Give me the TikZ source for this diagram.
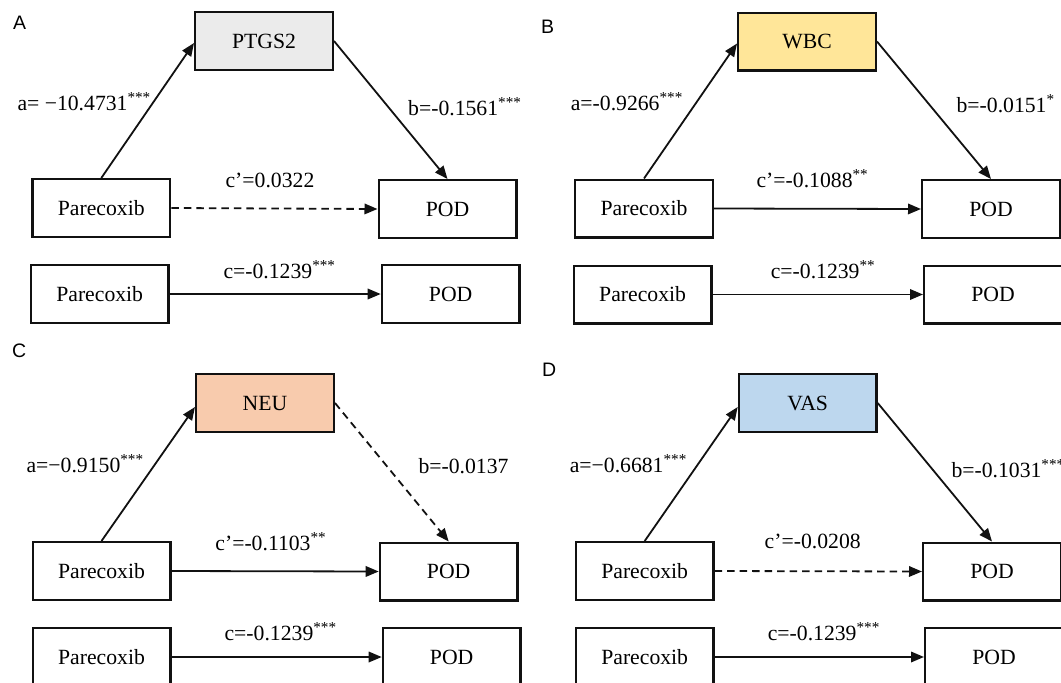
\documentclass[tikz,border=0pt]{standalone}
\usepackage{fontspec}
\setmainfont{Liberation Serif}
\newfontfamily\lettersans{Liberation Sans}
\usetikzlibrary{arrows.meta,calc}
\definecolor{grayfill}{HTML}{EBEBEB}
\definecolor{yellowfill}{HTML}{FFE699}
\definecolor{orangefill}{HTML}{F8CBAD}
\definecolor{bluefill}{HTML}{BDD7EE}
\definecolor{edge}{HTML}{111111}
\newcommand{\st}[1]{\textsuperscript{#1}}
\begin{document}
\begin{tikzpicture}[x=1pt,y=-1pt,
  box/.style={draw=edge, line width=2.4pt, minimum width=137.6pt, minimum height=57.6pt, inner sep=0pt, font=\fontsize{21.7}{25}\selectfont},
  lab/.style={anchor=base west, inner sep=0pt, font=\fontsize{21.7}{25}\selectfont},
  panel/.style={anchor=base west, inner sep=0pt, font=\lettersans\fontsize{19.5}{22}\selectfont},
  conn/.style={draw=edge, line width=1.8pt, -{Triangle[length=13pt,width=10.5pt]}},
  dconn/.style={conn, dash pattern=on 7.5pt off 5pt}]
\useasboundingbox (0,0) rectangle (1061,683);
\clip (0,0) rectangle (1061,683);

% ---------- Panel A ----------
\node[panel] (LA) at (13,29) {A};
\node[box, fill=grayfill] (PTGS2) at (264,41) {PTGS2};
\node[box] (ParA1) at (101.3,208) {Parecoxib};
\node[box] (PODA1) at (447.5,209) {POD};
\node[box] (ParA2) at (99.7,294) {Parecoxib};
\node[box] (PODA2) at (450.7,294) {POD};
\draw[conn] (ParA1.north) -- ($(PTGS2.west)+(0,2)$);
\draw[conn] (PTGS2.east) -- (PODA1.north);
\draw[dconn] (ParA1.east) -- (PODA1.west);
\draw[conn] (ParA2.east) -- (PODA2.west);
\node[lab] (aA) at (17.3,110) {a= −10.4731\st{***}};
\node[lab] (bA) at (408,115) {b=-0.1561\st{***}};
\node[lab] (cpA) at (225.4,187) {c’=0.0322};
\node[lab] (cA) at (223.3,278) {c=-0.1239\st{***}};

% ---------- Panel B ----------
\node[panel] (LB) at (541,33) {B};
\node[box, fill=yellowfill] (WBC) at (807,41.5) {WBC};
\node[box] (ParB1) at (644,208.5) {Parecoxib};
\node[box] (PODB1) at (991,209) {POD};
\node[box] (ParB2) at (642.6,294.5) {Parecoxib};
\node[box] (PODB2) at (993,294.5) {POD};
\draw[conn] (ParB1.north) -- ($(WBC.west)+(0,2)$);
\draw[conn] (WBC.east) -- (PODB1.north);
\draw[conn] (ParB1.east) -- (PODB1.west);
\draw[conn] (ParB2.east) -- (PODB2.west);
\node[lab] (aB) at (570.6,110) {a=-0.9266\st{***}};
\node[lab] (bB) at (956.4,112) {b=-0.0151\st{*}};
\node[lab] (cpB) at (756.4,187) {c’=-0.1088\st{**}};
\node[lab] (cB) at (770.6,278) {c=-0.1239\st{**}};

% ---------- Panel C ----------
\node[panel] (LC) at (12,357) {C};
\node[box, fill=orangefill] (NEU) at (265,403) {NEU};
\node[box] (ParC1) at (101.5,571) {Parecoxib};
\node[box] (PODC1) at (448.7,571.5) {POD};
\node[box] (ParC2) at (101.5,657) {Parecoxib};
\node[box] (PODC2) at (451.7,657) {POD};
\draw[conn] (ParC1.north) -- ($(NEU.west)+(0,4)$);
\draw[dconn] (NEU.east) -- (PODC1.north);
\draw[conn] (ParC1.east) -- (PODC1.west);
\draw[conn] (ParC2.east) -- (PODC2.west);
\node[lab] (aC) at (26.4,472) {a=−0.9150\st{***}};
\node[lab] (bC) at (418.3,473) {b=-0.0137};
\node[lab] (cpC) at (215.2,550) {c’=-0.1103\st{**}};
\node[lab] (cC) at (224.4,640) {c=-0.1239\st{***}};

% ---------- Panel D ----------
\node[panel] (LD) at (542,376) {D};
\node[box, fill=bluefill] (VAS) at (807.7,403) {VAS};
\node[box] (ParD1) at (644.7,571) {Parecoxib};
\node[box] (PODD1) at (992,571.5) {POD};
\node[box] (ParD2) at (644.7,657) {Parecoxib};
\node[box] (PODD2) at (994,657) {POD};
\draw[conn] (ParD1.north) -- ($(VAS.west)+(0,4)$);
\draw[conn] (VAS.east) -- (PODD1.north);
\draw[dconn] (ParD1.east) -- (PODD1.west);
\draw[conn] (ParD2.east) -- (PODD2.west);
\node[lab] (aD) at (569.6,472) {a=−0.6681\st{***}};
\node[lab] (bD) at (951.3,477) {b=-0.1031\st{***}};
\node[lab] (cpD) at (764.5,548) {c’=-0.0208};
\node[lab] (cD) at (767.6,640) {c=-0.1239\st{***}};
\end{tikzpicture}
\end{document}
